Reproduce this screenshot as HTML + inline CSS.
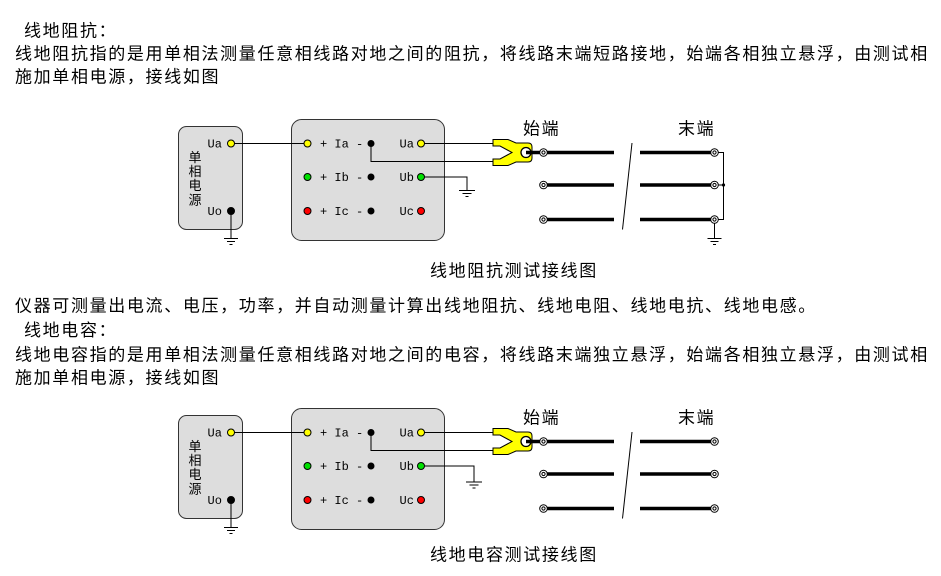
<!DOCTYPE html>
<html>
<head>
<meta charset="utf-8">
<style>
html,body{margin:0;padding:0;background:#fff;}
svg{display:block;}
.t{font-family:"Liberation Sans","Noto Sans CJK SC",sans-serif;font-size:17px;letter-spacing:1.65px;fill:#000;}
.v{font-family:"Liberation Sans","Noto Sans CJK SC",sans-serif;font-size:13px;fill:#000;}
.m{font-family:"Liberation Mono",monospace;font-size:12px;fill:#000;}
.w{stroke:#000;stroke-width:1;fill:none;}
.th{stroke:#000;stroke-width:3.5;fill:none;}
</style>
</head>
<body>
<svg width="941" height="576" viewBox="0 0 941 576" xmlns="http://www.w3.org/2000/svg">
<rect width="941" height="576" fill="#fff"/>

<!-- body text -->
<text class="t" x="24" y="36.5">线地阻抗：</text>
<text class="t" x="15" y="59.5">线地阻抗指的是用单相法测量任意相线路对地之间的阻抗，将线路末端短路接地，始端各相独立悬浮，由测试相</text>
<text class="t" x="15" y="82.5">施加单相电源，接线如图</text>
<text class="t" x="430" y="276.5">线地阻抗测试接线图</text>
<text class="t" x="15" y="311.5">仪器可测量出电流、电压，功率，并自动测量计算出线地阻抗、线地电阻、线地电抗、线地电感。</text>
<text class="t" x="24" y="336">线地电容：</text>
<text class="t" x="15" y="360.5">线地电容指的是用单相法测量任意相线路对地之间的电容，将线路末端独立悬浮，始端各相独立悬浮，由测试相</text>
<text class="t" x="15" y="383.5">施加单相电源，接线如图</text>
<text class="t" x="430" y="560.5">线地电容测试接线图</text>

<!-- ===== Diagram 1 ===== -->
<g>
  <!-- left box -->
  <rect x="178.5" y="126.5" width="64" height="103" rx="8" fill="#dddddd" stroke="#333" stroke-width="1"/>
  <text class="v" x="188.5" y="162">单</text>
  <text class="v" x="188.5" y="176">相</text>
  <text class="v" x="188.5" y="190">电</text>
  <text class="v" x="188.5" y="204.5">源</text>
  <text class="m" x="207.5" y="147.5">Ua</text>
  <text class="m" x="207.5" y="215">Uo</text>
  <!-- middle box -->
  <rect x="291.5" y="119.5" width="153" height="121" rx="10" fill="#dddddd" stroke="#333" stroke-width="1"/>
  <text class="m" x="320" y="147.5">+ Ia -</text>
  <text class="m" x="320" y="181">+ Ib -</text>
  <text class="m" x="320" y="215">+ Ic -</text>
  <text class="m" x="399.5" y="147.5">Ua</text>
  <text class="m" x="399.5" y="181">Ub</text>
  <text class="m" x="399.5" y="215">Uc</text>

  <!-- wires -->
  <path class="w" d="M231,143.5 H307.5"/>
  <path class="w" d="M371,143.5 V161.5 H494"/>
  <path class="w" d="M421,143.5 H494"/>
  <path class="w" d="M421,177 H467 V190"/>
  <path class="w" d="M459,190.5 H475 M462.5,193.5 H471.5 M465.5,196.5 H468.5"/>
  <path class="w" d="M231,211 V238"/>
  <path class="w" d="M224,238.5 H238 M227,241.5 H235 M229.5,244.5 H232.5"/>

  <!-- dots -->
  <circle cx="231" cy="143.5" r="3.5" fill="#ffff00" stroke="#000"/>
  <circle cx="231" cy="211" r="3.5" fill="#000" stroke="#000"/>
  <circle cx="307.5" cy="143.5" r="3.5" fill="#ffff00" stroke="#000"/>
  <circle cx="307.5" cy="177" r="3.5" fill="#00e000" stroke="#000"/>
  <circle cx="307.5" cy="211" r="3.5" fill="#ff0000" stroke="#000"/>
  <circle cx="371" cy="143.5" r="3.5" fill="#000"/>
  <circle cx="371" cy="177" r="3.5" fill="#000"/>
  <circle cx="371" cy="211" r="3.5" fill="#000"/>
  <circle cx="421" cy="143.5" r="3.5" fill="#ffff00" stroke="#000"/>
  <circle cx="421" cy="177" r="3.5" fill="#00e000" stroke="#000"/>
  <circle cx="421" cy="211" r="3.5" fill="#ff0000" stroke="#000"/>

  <!-- clamp -->
  <path d="M493,139.5 H508 L516,143 H528 Q532,143 532,147 V158 Q532,162 528,162 H516 L508,165.5 H493 V159 H500 L512,152.5 L500,146 H493 Z" fill="#ffff00" stroke="#000" stroke-width="1"/>
  <circle cx="526" cy="152.5" r="5" fill="#fff" stroke="#000" stroke-width="1.3"/>
  <path class="th" d="M526,152.5 H540" stroke-width="3"/>

  <!-- lines -->
  <path class="th" d="M547,152.5 H614 M547,185 H614 M547,219.5 H614"/>
  <path class="th" d="M640,152.5 H711 M640,185 H711 M640,219.5 H711"/>
  <path class="w" d="M632,143 L622.5,229.5"/>
  <circle cx="543.5" cy="152.5" r="3.8" fill="#fff" stroke="#000"/>
  <circle cx="543.5" cy="152.5" r="1.6" fill="#fff" stroke="#000"/>
  <circle cx="543.5" cy="185" r="3.8" fill="#fff" stroke="#000"/>
  <circle cx="543.5" cy="185" r="1.6" fill="#fff" stroke="#000"/>
  <circle cx="543.5" cy="219.5" r="3.8" fill="#fff" stroke="#000"/>
  <circle cx="543.5" cy="219.5" r="1.6" fill="#fff" stroke="#000"/>
  <!-- far end short + ground -->
  <path class="w" d="M718,152.5 H723.5 V219.5 H718 M718,185 H723.5"/>
  <circle cx="723.5" cy="185" r="1.6" fill="#000"/>
  <path class="w" d="M714.5,223 V238"/>
  <path class="w" d="M707.5,238.5 H721.5 M710.5,241.5 H718.5 M713,244.5 H716"/>
  <circle cx="714.5" cy="152.5" r="3.8" fill="#fff" stroke="#000"/>
  <circle cx="714.5" cy="152.5" r="1.6" fill="#fff" stroke="#000"/>
  <circle cx="714.5" cy="185" r="3.8" fill="#fff" stroke="#000"/>
  <circle cx="714.5" cy="185" r="1.6" fill="#fff" stroke="#000"/>
  <circle cx="714.5" cy="219.5" r="3.8" fill="#fff" stroke="#000"/>
  <circle cx="714.5" cy="219.5" r="1.6" fill="#fff" stroke="#000"/>

  <text class="t" x="523" y="134.5">始端</text>
  <text class="t" x="678" y="134.5">末端</text>
</g>

<!-- ===== Diagram 2 ===== -->
<g transform="translate(0,289)">
  <rect x="178.5" y="126.5" width="64" height="103" rx="8" fill="#dddddd" stroke="#333" stroke-width="1"/>
  <text class="v" x="188.5" y="162">单</text>
  <text class="v" x="188.5" y="176">相</text>
  <text class="v" x="188.5" y="190">电</text>
  <text class="v" x="188.5" y="204.5">源</text>
  <text class="m" x="207.5" y="147.5">Ua</text>
  <text class="m" x="207.5" y="215">Uo</text>
  <rect x="291.5" y="119.5" width="153" height="121" rx="10" fill="#dddddd" stroke="#333" stroke-width="1"/>
  <text class="m" x="320" y="147.5">+ Ia -</text>
  <text class="m" x="320" y="181">+ Ib -</text>
  <text class="m" x="320" y="215">+ Ic -</text>
  <text class="m" x="399.5" y="147.5">Ua</text>
  <text class="m" x="399.5" y="181">Ub</text>
  <text class="m" x="399.5" y="215">Uc</text>

  <path class="w" d="M231,143.5 H307.5"/>
  <path class="w" d="M371,143.5 V161.5 H494"/>
  <path class="w" d="M421,143.5 H494"/>
  <path class="w" d="M421,177 H474 V192.5"/>
  <path class="w" d="M466,193 H482 M469.5,196 H478.5 M472.5,199 H475.5"/>
  <path class="w" d="M231,211 V238"/>
  <path class="w" d="M224,238.5 H238 M227,241.5 H235 M229.5,244.5 H232.5"/>

  <circle cx="231" cy="143.5" r="3.5" fill="#ffff00" stroke="#000"/>
  <circle cx="231" cy="211" r="3.5" fill="#000" stroke="#000"/>
  <circle cx="307.5" cy="143.5" r="3.5" fill="#ffff00" stroke="#000"/>
  <circle cx="307.5" cy="177" r="3.5" fill="#00e000" stroke="#000"/>
  <circle cx="307.5" cy="211" r="3.5" fill="#ff0000" stroke="#000"/>
  <circle cx="371" cy="143.5" r="3.5" fill="#000"/>
  <circle cx="371" cy="177" r="3.5" fill="#000"/>
  <circle cx="371" cy="211" r="3.5" fill="#000"/>
  <circle cx="421" cy="143.5" r="3.5" fill="#ffff00" stroke="#000"/>
  <circle cx="421" cy="177" r="3.5" fill="#00e000" stroke="#000"/>
  <circle cx="421" cy="211" r="3.5" fill="#ff0000" stroke="#000"/>

  <path d="M493,139.5 H508 L516,143 H528 Q532,143 532,147 V158 Q532,162 528,162 H516 L508,165.5 H493 V159 H500 L512,152.5 L500,146 H493 Z" fill="#ffff00" stroke="#000" stroke-width="1"/>
  <circle cx="526" cy="152.5" r="5" fill="#fff" stroke="#000" stroke-width="1.3"/>
  <path class="th" d="M526,152.5 H540" stroke-width="3"/>

  <path class="th" d="M547,152.5 H614 M547,185 H614 M547,219.5 H614"/>
  <path class="th" d="M640,152.5 H711 M640,185 H711 M640,219.5 H711"/>
  <path class="w" d="M632,143 L622.5,229.5"/>
  <circle cx="543.5" cy="152.5" r="3.8" fill="#fff" stroke="#000"/>
  <circle cx="543.5" cy="152.5" r="1.6" fill="#fff" stroke="#000"/>
  <circle cx="543.5" cy="185" r="3.8" fill="#fff" stroke="#000"/>
  <circle cx="543.5" cy="185" r="1.6" fill="#fff" stroke="#000"/>
  <circle cx="543.5" cy="219.5" r="3.8" fill="#fff" stroke="#000"/>
  <circle cx="543.5" cy="219.5" r="1.6" fill="#fff" stroke="#000"/>
  <circle cx="714.5" cy="152.5" r="3.8" fill="#fff" stroke="#000"/>
  <circle cx="714.5" cy="152.5" r="1.6" fill="#fff" stroke="#000"/>
  <circle cx="714.5" cy="185" r="3.8" fill="#fff" stroke="#000"/>
  <circle cx="714.5" cy="185" r="1.6" fill="#fff" stroke="#000"/>
  <circle cx="714.5" cy="219.5" r="3.8" fill="#fff" stroke="#000"/>
  <circle cx="714.5" cy="219.5" r="1.6" fill="#fff" stroke="#000"/>

  <text class="t" x="523" y="134.5">始端</text>
  <text class="t" x="678" y="134.5">末端</text>
</g>
</svg>
</body>
</html>
